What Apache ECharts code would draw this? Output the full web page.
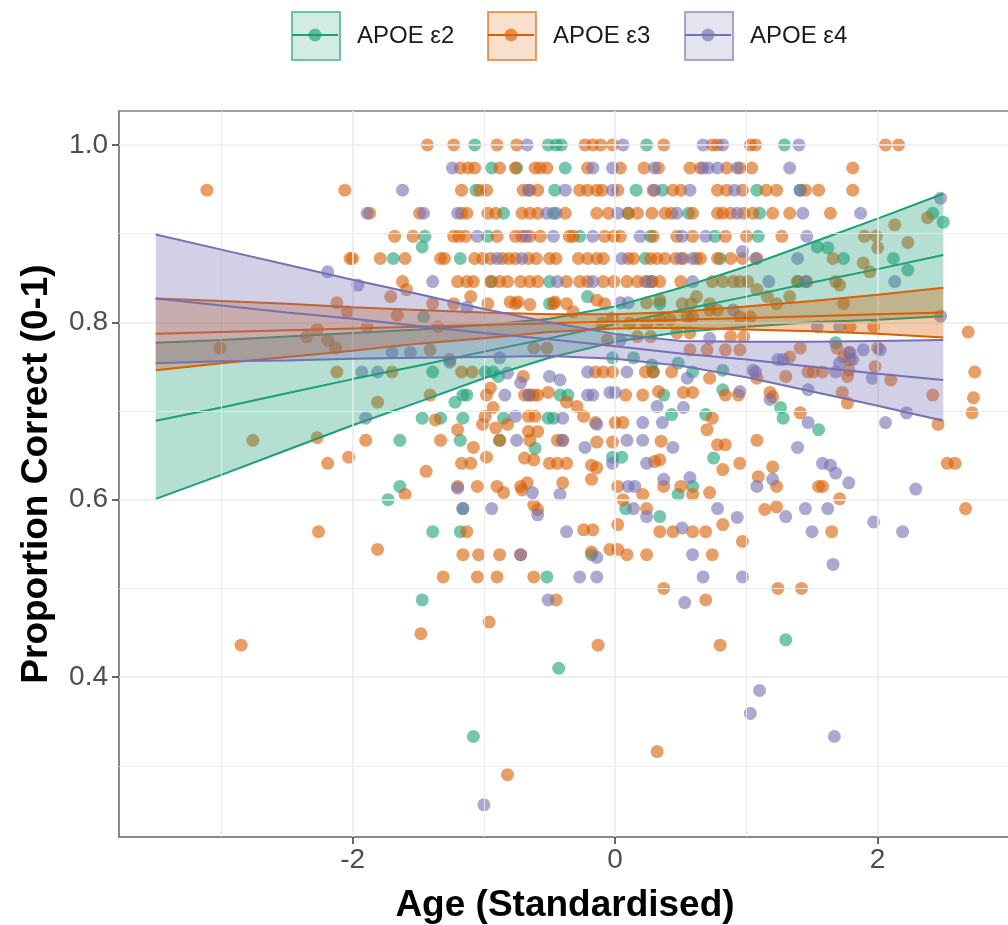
<!DOCTYPE html>
<html><head><meta charset="utf-8">
<script src="https://cdn.jsdelivr.net/npm/echarts@6/dist/echarts.min.js"></script>
<style>html,body{margin:0;padding:0;background:#fff}#chart{width:1008px;height:925px}</style>
</head><body><div id="chart"></div>
<script>
const groupNames = ['APOE ε2', 'APOE ε3', 'APOE ε4'];
const groupColors = ['#1B9E77', '#D95F02', '#7570B3'];
const bandFills = ['rgba(27,158,119,0.33)', 'rgba(217,95,2,0.33)', 'rgba(117,112,179,0.33)'];
const xTicks = [-2, 0, 2];
const yTicks = [0.4, 0.6, 0.8, 1.0];
const xMinorGrid = [-3, -1, 1, 3];
const yMinorGrid = [0.3, 0.5, 0.7, 0.9];

// regression lines and confidence bands, read at these ages
const smoothX = [-3.5, -3, -2.5, -2, -1.5, -1, -0.5, 0, 0.5, 1, 1.5, 2, 2.5];
const e2Lower = [0.601, 0.628, 0.656, 0.684, 0.710, 0.737, 0.760, 0.778, 0.789, 0.795, 0.800, 0.803, 0.807];
const e2Fit   = [0.689, 0.704, 0.720, 0.736, 0.751, 0.767, 0.782, 0.798, 0.814, 0.829, 0.845, 0.860, 0.876];
const e2Upper = [0.777, 0.780, 0.784, 0.788, 0.792, 0.797, 0.804, 0.818, 0.839, 0.863, 0.890, 0.917, 0.945];
const e3Lower = [0.746, 0.754, 0.761, 0.768, 0.776, 0.782, 0.789, 0.793, 0.794, 0.792, 0.790, 0.787, 0.783];
const e3Fit   = [0.787, 0.789, 0.791, 0.793, 0.795, 0.797, 0.799, 0.801, 0.803, 0.805, 0.807, 0.809, 0.811];
const e3Upper = [0.827, 0.824, 0.821, 0.817, 0.814, 0.811, 0.809, 0.809, 0.812, 0.818, 0.824, 0.831, 0.839];
const e4Lower = [0.754, 0.756, 0.757, 0.759, 0.760, 0.761, 0.762, 0.759, 0.751, 0.738, 0.722, 0.706, 0.689];
const e4Fit   = [0.827, 0.819, 0.811, 0.804, 0.796, 0.788, 0.781, 0.773, 0.765, 0.758, 0.750, 0.742, 0.735];
const e4Upper = [0.899, 0.882, 0.865, 0.848, 0.832, 0.815, 0.800, 0.787, 0.779, 0.778, 0.778, 0.779, 0.780];

// participants: [age (standardised), proportion correct]
const e2Points = [
[-1.07,1],[-0.51,1],[-0.45,1],[-0.41,1],[0.24,1],[1.29,1],
[-0.94,0.974],[-0.75,0.974],[-0.38,0.974],
[-1.06,0.949],[-0.46,0.949],[0.16,0.949],[0.36,0.949],[1.08,0.949],[1.41,0.949],
[-0.85,0.923],[-0.47,0.923],[0.10,0.923],[0.56,0.923],[1.10,0.923],[2.42,0.923],
[-1.45,0.897],[-1.47,0.885],[-0.97,0.897],[-0.27,0.897],[0.27,0.897],[0.76,0.897],[1.09,0.897],[2.50,0.913],
[-1.69,0.872],[-1.18,0.872],[0.23,0.872],[0.80,0.872],[1.54,0.885],[1.62,0.884],[1.74,0.872],[2.12,0.872],[2.23,0.859],
[-0.94,0.846],[-0.50,0.846],[0.28,0.846],[1.39,0.846],
[-0.50,0.821],[-0.21,0.829],[0.34,0.821],[-1.46,0.806],[1.68,0.777],
[-0.02,0.760],[0.14,0.760],[0.28,0.752],[0.48,0.754],
[-1.39,0.744],[-0.99,0.744],[-0.93,0.744],[-0.89,0.739],[0.29,0.744],[0.59,0.744],[0.82,0.746],
[-1.16,0.718],[-1.13,0.718],[-1.22,0.710],[-0.42,0.718],[-0.36,0.718],[0.37,0.718],[0.82,0.724],[1.26,0.704],
[-1.47,0.692],[-1.33,0.692],[-1.16,0.692],[-0.85,0.692],[-0.51,0.692],[-0.47,0.692],[0.43,0.696],[0.69,0.696],[1.28,0.692],[1.55,0.679],
[-1.64,0.667],[-1.18,0.667],[-0.88,0.667],[-0.61,0.658],
[-0.02,0.648],[0.05,0.648],[0.75,0.647],
[-1.64,0.615],[0.59,0.615],[0.48,0.606],[-1.73,0.600],
[-1.16,0.590],[0.08,0.590],[0.34,0.581],
[-1.39,0.564],[-1.18,0.564],[-0.18,0.538],
[-0.52,0.513],[-1.47,0.487],[1.30,0.442],[-0.43,0.410],[-1.08,0.333]
];
const e3Points = [
[-1.43,1],[-1.23,1],[-0.90,1],[-0.75,1],[-0.23,1],[-0.17,1],[-0.11,1],[-0.02,1],[0.37,1],[0.74,1],[0.78,1],[1.03,1],[1.07,1],[2.06,1],[2.16,1],
[-1.18,0.974],[-1.12,0.974],[-1.07,0.974],[-0.88,0.974],[-0.76,0.974],[-0.61,0.974],[-0.57,0.974],[-0.52,0.974],[-0.21,0.974],[0.04,0.974],[0.22,0.974],[0.33,0.974],[0.57,0.974],[0.65,0.974],[0.85,0.974],[0.95,0.974],[1.04,0.974],[1.81,0.974],
[-3.11,0.949],[-2.06,0.949],[-1.17,0.949],[-1.03,0.949],[-0.98,0.949],[-0.70,0.949],[-0.65,0.949],[-0.59,0.949],[-0.27,0.949],[-0.21,0.949],[-0.14,0.949],[-0.10,0.949],[0.02,0.949],[0.29,0.949],[0.44,0.949],[0.50,0.949],[0.78,0.949],[0.85,0.949],[0.97,0.949],[1.15,0.949],[1.23,0.949],[1.45,0.949],[1.55,0.949],[1.81,0.949],
[-1.87,0.923],[-1.49,0.923],[-1.17,0.923],[-1.13,0.923],[-0.97,0.923],[-0.91,0.923],[-0.71,0.923],[-0.65,0.923],[-0.59,0.923],[-0.38,0.923],[-0.14,0.923],[-0.05,0.923],[0.10,0.923],[0.17,0.923],[0.28,0.923],[0.38,0.923],[0.43,0.923],[0.59,0.923],[0.78,0.923],[0.82,0.923],[0.88,0.923],[0.98,0.923],[1.05,0.923],[1.20,0.923],[1.33,0.923],[1.64,0.923],
[-1.68,0.897],[-1.54,0.897],[-1.23,0.897],[-1.19,0.897],[-1.14,0.897],[-0.90,0.897],[-0.76,0.897],[-0.71,0.897],[-0.65,0.897],[-0.57,0.897],[-0.35,0.897],[-0.32,0.897],[-0.08,0.897],[-0.01,0.897],[0.04,0.897],[0.29,0.897],[0.47,0.897],[0.59,0.897],[0.84,0.897],[1.00,0.897],[1.27,0.897],[1.90,0.897],[1.99,0.897],[2.13,0.910],[2.38,0.918],
[-2.02,0.872],[-2.00,0.872],[-1.79,0.872],[-1.60,0.872],[-1.33,0.872],[-1.30,0.872],[-1.07,0.872],[-1.01,0.872],[-0.95,0.872],[-0.86,0.872],[-0.81,0.872],[-0.76,0.872],[-0.66,0.872],[-0.60,0.872],[-0.50,0.872],[-0.45,0.872],[-0.28,0.872],[-0.21,0.872],[-0.14,0.872],[-0.09,0.872],[0.10,0.872],[0.14,0.872],[0.27,0.872],[0.32,0.872],[0.38,0.872],[0.46,0.872],[0.52,0.872],[0.62,0.872],[0.65,0.872],[0.78,0.872],[0.88,0.872],[0.97,0.872],[1.08,0.872],[1.66,0.872],[1.89,0.867],[2.00,0.884],[2.23,0.890],[1.94,0.857],
[-1.62,0.846],[-1.20,0.846],[-1.13,0.846],[-1.08,0.846],[-0.95,0.846],[-0.88,0.846],[-0.82,0.846],[-0.72,0.846],[-0.65,0.846],[-0.59,0.846],[-0.37,0.846],[-0.27,0.846],[-0.21,0.846],[-0.09,0.846],[-0.01,0.846],[0.09,0.846],[0.17,0.846],[0.23,0.846],[0.28,0.846],[0.34,0.846],[0.50,0.846],[0.74,0.846],[0.82,0.846],[0.90,0.846],[0.95,0.846],[1.01,0.846],[1.39,0.846],[1.46,0.846],[1.68,0.846],[1.71,0.842],[-1.59,0.837],[1.08,0.837],
[-1.71,0.829],[-2.12,0.822],[-2.04,0.812],[-1.39,0.821],[-1.23,0.821],[-0.97,0.821],[-0.76,0.821],[-0.47,0.821],[-0.37,0.821],[-0.08,0.821],[0.51,0.821],[0.58,0.821],[0.72,0.821],[1.23,0.821],[1.74,0.821],[-0.32,0.812],[-0.14,0.825],
[0.62,0.829],[1.16,0.829],[1.33,0.829],[-1.10,0.829],[-0.80,0.823],[-0.74,0.823],[-0.65,0.820],[-0.46,0.823],[0.24,0.822],[0.34,0.825],
[-0.02,0.805],[-0.10,0.799],[0.11,0.799],[0.24,0.799],[0.34,0.803],[0.42,0.803],[0.55,0.806],[0.59,0.806],[0.72,0.814],[0.78,0.814],[0.95,0.806],[1.03,0.806],[-1.66,0.808],
[-0.06,0.780],[0.17,0.784],[0.27,0.784],[0.47,0.788],[0.57,0.788],[0.88,0.784],[0.98,0.784],[-2.27,0.792],[-2.35,0.784],[-2.19,0.780],[-1.89,0.795],[-1.35,0.795],[1.97,0.795],[1.79,0.795],[2.69,0.789],
[-2.13,0.771],[-3.01,0.771],[-1.41,0.769],[-0.62,0.771],[-0.52,0.771],[0.57,0.769],[0.70,0.769],[0.84,0.769],[0.95,0.769],[2.00,0.771],[1.41,0.771],[1.69,0.771],[1.78,0.766],
[-1.26,0.758],[1.74,0.761],[1.79,0.758],[1.33,0.761],[1.98,0.750],
[-2.12,0.744],[-1.70,0.744],[-1.17,0.744],[-1.09,0.744],[-0.70,0.739],[-0.15,0.744],[-0.02,0.744],[-0.09,0.744],[0.23,0.744],[0.29,0.744],[0.43,0.744],[0.72,0.737],[1.08,0.737],[1.47,0.744],[1.51,0.744],[1.58,0.744],[1.77,0.739],[1.30,0.739],[1.78,0.746],[2.74,0.744],[2.10,0.735],[-0.95,0.726],
[-1.81,0.710],[-1.41,0.718],[-0.98,0.718],[-0.51,0.721],[-0.62,0.718],[-0.69,0.718],[-0.65,0.718],[-0.59,0.718],[-0.37,0.710],[-0.29,0.705],[-0.93,0.704],[0.08,0.718],[0.21,0.718],[0.33,0.722],[0.52,0.721],[0.59,0.721],[0.84,0.718],[0.94,0.718],[1.18,0.721],[1.20,0.716],[1.73,0.721],[1.77,0.709],[2.42,0.718],[2.73,0.715],
[-1.37,0.690],[-0.24,0.694],[-0.99,0.694],[-0.66,0.694],[-0.61,0.694],[0.74,0.692],[1.41,0.698],[2.72,0.698],[-0.15,0.687],[0.00,0.687],[0.06,0.687],[-1.01,0.685],[-0.91,0.681],[-0.82,0.685],[2.46,0.685],[-1.20,0.679],[0.70,0.679],
[-2.76,0.667],[-2.27,0.670],[-1.90,0.667],[-1.33,0.667],[-0.44,0.667],[-0.88,0.667],[-0.66,0.677],[-0.59,0.677],[-0.65,0.667],[-0.40,0.667],[-0.14,0.665],[-0.02,0.665],[0.35,0.666],[0.78,0.662],[0.84,0.662],[1.08,0.667],[-1.08,0.659],
[-2.19,0.641],[-2.03,0.648],[-0.98,0.648],[-0.69,0.647],[-0.62,0.645],[-0.50,0.641],[-0.44,0.641],[-0.37,0.641],[-1.17,0.641],[-1.10,0.641],[-0.18,0.639],[-0.14,0.636],[0.30,0.643],[0.34,0.645],[0.82,0.634],[0.95,0.641],[2.53,0.641],[2.59,0.641],[1.20,0.637],[-1.44,0.632],
[-1.60,0.606],[-1.20,0.615],[-1.05,0.615],[-0.90,0.615],[-0.85,0.608],[-0.72,0.615],[-0.67,0.619],[-0.71,0.611],[-0.40,0.619],[-0.18,0.623],[0.02,0.615],[0.21,0.606],[0.37,0.615],[0.50,0.615],[0.59,0.606],[0.72,0.608],[1.09,0.626],[1.23,0.615],[1.55,0.615],[1.58,0.615],[1.71,0.601],
[-0.62,0.594],[-0.59,0.589],[0.06,0.600],[0.24,0.590],[1.14,0.589],[1.23,0.592],[2.67,0.590],
[-2.26,0.564],[-1.13,0.564],[-0.24,0.566],[-0.17,0.566],[0.02,0.572],[0.34,0.564],[0.44,0.564],[0.59,0.564],[0.69,0.564],[0.82,0.572],[1.65,0.564],
[-1.81,0.544],[-1.16,0.538],[-1.04,0.538],[-0.88,0.538],[-0.72,0.538],[-0.18,0.541],[-0.04,0.544],[0.02,0.544],[0.09,0.538],[0.24,0.538],[0.74,0.538],[0.97,0.553],
[-1.31,0.513],[-1.05,0.513],[-0.90,0.513],[-0.62,0.513],[0.37,0.500],[1.24,0.500],[1.42,0.500],
[-0.45,0.487],[0.69,0.487],
[-0.96,0.462],[-1.48,0.449],[-2.85,0.436],[-0.13,0.436],[0.80,0.436],[-0.82,0.290],[0.32,0.316]
];
const e4Points = [
[-0.67,1],[0.06,1],[0.67,1],[0.82,1],[1.40,1],
[-1.24,0.974],[-0.17,0.974],[-0.02,0.974],[0.30,0.974],[0.67,0.974],[0.71,0.974],[0.78,0.974],[0.93,0.974],[1.33,0.974],
[-1.62,0.949],[-0.66,0.949],[-0.38,0.949],[-0.02,0.949],[0.30,0.949],[0.57,0.949],[0.91,0.949],[1.41,0.949],[2.48,0.940],
[-1.89,0.923],[-1.46,0.923],[-1.20,0.923],[-0.52,0.923],[-0.45,0.923],[0.02,0.923],[0.47,0.923],[0.93,0.923],[1.43,0.923],[1.87,0.923],
[-1.05,0.897],[-0.68,0.897],[-0.47,0.897],[-0.17,0.897],[0.19,0.897],[0.51,0.897],[0.69,0.897],[1.46,0.897],[0.97,0.880],
[-0.90,0.872],[-0.71,0.872],[0.05,0.872],[0.50,0.872],[0.59,0.872],[1.07,0.872],[1.39,0.872],
[-1.39,0.846],[-0.44,0.846],[-0.17,0.846],[0.25,0.846],[0.59,0.846],[1.17,0.846],[1.45,0.846],[2.13,0.846],[-2.19,0.857],[-1.96,0.842],
[-1.13,0.817],[0.04,0.822],[0.10,0.822],[0.90,0.814],[2.48,0.807],
[0.04,0.780],[0.72,0.782],[1.71,0.795],[1.54,0.795],
[1.89,0.769],[2.02,0.769],[1.81,0.758],[1.71,0.754],[1.24,0.758],[1.28,0.758],[1.79,0.766],[-1.70,0.766],[-1.56,0.766],[-0.88,0.760],[-1.26,0.755],
[1.96,0.737],[1.68,0.744],[1.07,0.744],[1.05,0.746],[-1.93,0.744],[-1.81,0.744],[-0.82,0.743],[-0.72,0.732],[-0.50,0.739],[-0.42,0.735],[-0.21,0.744],[0.09,0.744],[0.55,0.737],
[1.47,0.724],[1.18,0.713],[-0.84,0.718],[-0.66,0.718],[-0.21,0.718],[-0.17,0.718],[-0.04,0.721],[0.00,0.721],[0.95,0.722],[0.32,0.705],[0.52,0.704],
[2.22,0.698],[2.06,0.687],[1.47,0.687],[-1.90,0.692],[-0.40,0.692],[-0.76,0.694],[-0.14,0.685],[0.21,0.687],[0.36,0.687],
[-0.75,0.667],[-0.40,0.667],[0.09,0.667],[0.21,0.667],[-0.23,0.659],[0.44,0.659],[1.39,0.659],
[-0.02,0.641],[0.24,0.641],[1.58,0.641],[1.64,0.639],[1.68,0.630],
[-1.20,0.613],[-0.63,0.608],[-0.42,0.606],[0.10,0.615],[0.15,0.615],[0.37,0.623],[0.57,0.625],[1.08,0.615],[1.20,0.623],[1.78,0.619],[2.29,0.612],
[-1.16,0.590],[-0.94,0.590],[-0.59,0.583],[0.14,0.590],[0.24,0.581],[0.78,0.590],[0.93,0.580],[1.30,0.581],[1.45,0.590],[1.62,0.590],[1.97,0.575],
[-0.37,0.564],[0.51,0.568],[1.50,0.564],[2.19,0.564],
[-0.72,0.538],[-0.14,0.535],[0.59,0.538],[1.66,0.527],
[-0.27,0.513],[-0.14,0.513],[0.67,0.513],[0.97,0.513],
[-0.51,0.487],[0.53,0.484],
[1.10,0.385],[1.03,0.359],[1.67,0.333],[-1.00,0.256]
];

const pointSets = [e2Points, e3Points, e4Points];
const bandSets = [[e2Lower, e2Fit, e2Upper], [e3Lower, e3Fit, e3Upper], [e4Lower, e4Fit, e4Upper]];
const FONT = '"Liberation Sans", Arial, Helvetica, sans-serif';

const chart = echarts.init(document.getElementById('chart'));
const series = [];

// background grid lines
const gridLines = [];
xTicks.forEach(v => gridLines.push({xAxis: v, lineStyle: {color: '#EBEBEB', width: 1.6, type: 'solid'}}));
xMinorGrid.forEach(v => gridLines.push({xAxis: v, lineStyle: {color: '#EBEBEB', width: 0.9, type: 'solid'}}));
yTicks.forEach(v => gridLines.push({yAxis: v, lineStyle: {color: '#EBEBEB', width: 1.6, type: 'solid'}}));
yMinorGrid.forEach(v => gridLines.push({yAxis: v, lineStyle: {color: '#EBEBEB', width: 0.9, type: 'solid'}}));
series.push({
  type: 'line', name: 'grid', data: [], z: 0, silent: true,
  markLine: {silent: true, symbol: ['none', 'none'], label: {show: false}, animation: false, data: gridLines}
});

pointSets.forEach((pts, i) => {
  series.push({
    type: 'scatter', name: groupNames[i], data: pts, symbolSize: 13, z: 2,
    itemStyle: {color: groupColors[i], opacity: 0.6, borderWidth: 0}, silent: true
  });
});

bandSets.forEach((b, i) => {
  const lower = b[0], fit = b[1], upper = b[2];
  series.push({
    type: 'custom', name: groupNames[i] + ' CI', z: 3 + i * 2, silent: true, clip: true,
    data: [[smoothX[0], fit[0]]],
    renderItem: function (params, api) {
      const pts = [];
      for (let k = 0; k < smoothX.length; k++) pts.push(api.coord([smoothX[k], upper[k]]));
      for (let k = smoothX.length - 1; k >= 0; k--) pts.push(api.coord([smoothX[k], lower[k]]));
      return {type: 'polygon', shape: {points: pts}, style: {fill: bandFills[i], stroke: null}};
    }
  });
  [lower, fit, upper].forEach((arr, j) => {
    series.push({
      type: 'line', name: groupNames[i] + ' line' + j, z: 4 + i * 2, silent: true,
      data: smoothX.map((x, k) => [x, arr[k]]), showSymbol: false, symbol: 'none',
      lineStyle: {color: groupColors[i], width: 2}, itemStyle: {color: groupColors[i]}
    });
  });
});

// legends: one per group so key positions are known
const legendLeft = [291, 487, 684];
const keyW = 48, keyH = 48, keyTop = 11;
const legends = groupNames.map((n, i) => ({
  left: legendLeft[i], top: keyTop, padding: 0, orient: 'horizontal', selectedMode: false,
  itemWidth: keyW, itemHeight: keyH, icon: 'rect',
  itemStyle: {color: bandFills[i], borderColor: groupColors[i], borderWidth: 2},
  textStyle: {fontSize: 24, color: '#1a1a1a', fontFamily: FONT, padding: [0, 0, 0, 12]},
  data: [{name: n}]
}));
const graphics = [];
groupNames.forEach((n, i) => {
  const cx = legendLeft[i] + keyW / 2, cy = keyTop + keyH / 2;
  graphics.push({type: 'line', z: 100, shape: {x1: legendLeft[i] + 1, y1: cy, x2: legendLeft[i] + keyW - 1, y2: cy},
    style: {stroke: groupColors[i], lineWidth: 2}});
  graphics.push({type: 'circle', z: 101, shape: {cx: cx, cy: cy, r: 6.5},
    style: {fill: groupColors[i], opacity: 0.65}});
});

chart.setOption({
  animation: false,
  backgroundColor: '#ffffff',
  grid: {left: 119, top: 111, width: 892, height: 726, show: true, borderColor: '#808080', borderWidth: 1.5,
    backgroundColor: 'transparent', containLabel: false, outerBoundsMode: 'none'},
  legend: legends,
  graphic: graphics,
  xAxis: {
    type: 'value', min: -3.78, max: 3.016,
    axisLine: {show: true, onZero: false, lineStyle: {color: '#808080', width: 1.5}}, splitLine: {show: false},
    axisTick: {show: true, customValues: xTicks, length: 7, lineStyle: {color: '#333333', width: 1.5}},
    axisLabel: {customValues: xTicks, fontSize: 28, color: '#4D4D4D', margin: 9, fontFamily: FONT},
    name: 'Age (Standardised)', nameLocation: 'middle', nameGap: 50,
    nameTextStyle: {fontSize: 37, fontWeight: 'bold', color: '#000000', fontFamily: FONT}
  },
  yAxis: {
    type: 'value', min: 0.2197, max: 1.0383,
    axisLine: {show: true, onZero: false, lineStyle: {color: '#808080', width: 1.5}}, splitLine: {show: false},
    axisTick: {show: true, customValues: yTicks, length: 7, lineStyle: {color: '#333333', width: 1.5}},
    axisLabel: {customValues: yTicks, fontSize: 28, color: '#4D4D4D', margin: 11, fontFamily: FONT,
      formatter: v => Number(v).toFixed(1)},
    name: 'Proportion Correct (0-1)', nameLocation: 'middle', nameGap: 64, nameRotate: 90,
    nameTextStyle: {fontSize: 37, fontWeight: 'bold', color: '#000000', fontFamily: FONT}
  },
  series: series
});
</script></body></html>
